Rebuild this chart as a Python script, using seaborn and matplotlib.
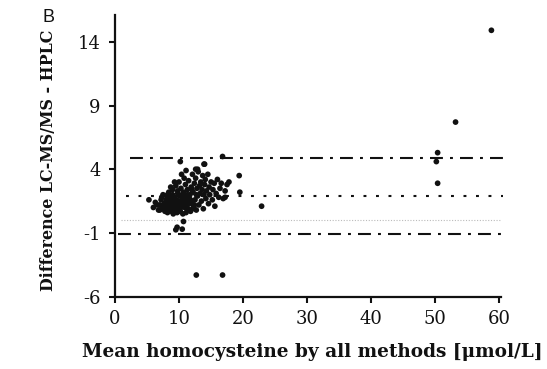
import matplotlib
matplotlib.use("Agg")
import matplotlib.pyplot as plt
import pandas as pd
import seaborn as sns

# Bland-Altman data: mean homocysteine (x) vs difference LC-MS/MS - HPLC (y)
mean_hcy = [
    6.0, 6.3, 6.8, 7.0, 7.2, 7.4, 7.5, 7.7, 7.8, 8.0,
    8.1, 8.2, 8.3, 8.4, 8.5, 8.6, 8.7, 8.8, 8.9, 9.0,
    9.0, 9.1, 9.2, 9.3, 9.4, 9.5, 9.5, 9.6, 9.7, 9.8,
    9.9, 10.0, 10.0, 10.1, 10.2, 10.3, 10.4, 10.5, 10.6, 10.7,
    10.8, 10.9, 11.0, 11.0, 11.1, 11.2, 11.3, 11.4, 11.5, 11.6,
    11.7, 11.8, 11.9, 12.0, 12.1, 12.2, 12.3, 12.4, 12.5, 12.6,
    12.7, 12.8, 12.9, 13.0, 13.1, 13.2, 13.3, 13.4, 13.5, 13.6,
    13.7, 13.8, 13.9, 14.0, 14.1, 14.2, 14.3, 14.5, 14.6, 14.7,
    14.8, 15.0, 15.2, 15.3, 15.5, 15.6, 15.8, 16.0, 16.2, 16.4,
    16.6, 16.9, 17.2, 17.5, 17.8,
    7.6, 8.0, 8.3, 8.6, 8.9, 9.2, 9.4, 9.7, 10.0, 10.3,
    10.6, 10.9, 11.2, 11.5, 11.8, 12.1, 12.4, 8.2, 9.0, 9.8,
    10.5, 11.3, 12.0, 12.7, 7.3, 6.6, 7.0,
    9.3, 8.7, 10.4, 11.1, 12.6, 12.9, 13.9, 10.2, 16.8, 14.0,
    5.3, 19.5, 19.4, 17.2,
    10.7, 9.7, 9.5, 10.5,
    22.9, 12.7, 16.8,
    58.8, 53.2, 50.4, 50.2, 50.4,
]
diff_hcy = [
    1.0, 1.4, 0.8, 1.2, 1.6, 0.9, 2.0, 1.3, 0.7, 1.1,
    1.7, 0.6, 1.4, 2.2, 0.9, 1.2, 1.9, 0.7, 1.5, 1.0,
    2.4, 0.5, 1.3, 1.8, 0.8, 2.7, 1.1, 1.6, 0.6, 2.1,
    1.4, 0.9, 3.0, 1.9, 0.7, 2.5, 1.2, 1.6, 0.5, 2.2,
    3.3, 1.0, 1.8, 2.8, 0.6, 1.4, 2.4, 0.9, 3.1, 1.7,
    2.0, 0.7, 2.6, 1.3, 3.6, 2.2, 1.0, 2.9, 1.6, 3.3,
    0.8, 2.5, 1.9, 3.8, 1.2, 2.7, 2.1, 3.0, 1.5, 2.4,
    3.5, 0.9, 2.0, 2.8, 3.2, 1.7, 2.3, 3.6, 1.3, 2.6,
    2.0, 3.0, 1.6, 2.4, 2.9, 1.1, 2.1, 3.2, 1.8, 2.5,
    2.9, 1.7, 2.3, 2.8, 3.0,
    1.0, 1.5, 0.9, 1.6, 1.2, 0.9, 1.5, 1.2, 1.5, 1.0,
    1.3, 1.5, 1.1, 1.3, 1.6, 0.9, 1.2, 2.0, 2.0, 2.3,
    2.0, 2.0, 2.4, 2.0, 1.8, 1.2, 0.8,
    3.0, 2.6, 3.6, 3.9, 4.0, 4.0, 4.4, 4.6, 5.0, 4.4,
    1.6, 2.2, 3.5, 1.8,
    -0.1, -0.55, -0.75, -0.7,
    1.1, -4.3, -4.3,
    14.9, 7.7, 5.3, 4.6, 2.9,
]

# reference lines: upper limit, mean difference, zero, lower limit
line_y = [4.9, 1.9, 0.0, -1.1]
line_x0 = [2.3, 1.7, 0.9, 0.4]
line_x1 = [60.6, 60.6, 60.3, 60.6]

x_ticks = [0, 10, 20, 30, 40, 50, 60]
y_ticks = [-6, -1, 4, 9, 14]

df = pd.DataFrame({"mean": mean_hcy, "diff": diff_hcy})

sns.set_style("ticks")
plt.rcParams["font.family"] = ["DejaVu Serif"]
plt.rcParams["axes.unicode_minus"] = False

fig = plt.figure(figsize=(5.47, 3.69), dpi=100)
ax = fig.add_axes([115 / 547, 1 - 296.7 / 369, 386 / 547, 281.7 / 369])

sns.scatterplot(data=df, x="mean", y="diff", ax=ax, color="#111111",
                s=17, edgecolor="none", legend=False, zorder=3)

styles = [
    dict(color="#111111", lw=1.5, ls=(0, (6.2, 3.4, 1.4, 3.4))),
    dict(color="#111111", lw=1.5, ls=(0, (1.4, 4.6))),
    dict(color="#bbbbbb", lw=0.8, ls=(0, (1, 1.5))),
    dict(color="#111111", lw=1.5, ls=(0, (6.2, 3.4, 1.4, 3.4))),
]
for yv, a, b, st in zip(line_y, line_x0, line_x1, styles):
    ax.plot([a, b], [yv, yv], clip_on=False, zorder=2, **st)

ax.set_xlim(0, 60.3)
ax.set_ylim(-6, 16.1)
ax.set_xticks(x_ticks)
ax.set_yticks(y_ticks)
ax.tick_params(axis="both", labelsize=13, width=1.5, length=4.5,
               color="#111111", labelcolor="#111111")
ax.tick_params(axis="y", pad=6)
ax.tick_params(axis="x", pad=5)

for s in ["top", "right"]:
    ax.spines[s].set_visible(False)
for s in ["left", "bottom"]:
    ax.spines[s].set_linewidth(1.6)
    ax.spines[s].set_color("#111111")

ax.set_xlabel("Mean homocysteine by all methods [μmol/L]", fontsize=13.3,
              fontweight="bold", color="#111111")
ax.xaxis.set_label_coords(0.512, -0.164)
ax.set_ylabel("Difference LC-MS/MS - HPLC", fontsize=11.4, fontweight="bold",
              color="#111111")
ax.yaxis.set_label_coords(-0.150, 0.485)

fig.text(48 / 547, 1 - 18 / 369, "B", fontsize=13, ha="center", va="center",
         family=["Liberation Sans", "DejaVu Sans"], color="#111111")

fig.savefig("out.png", dpi=100)
